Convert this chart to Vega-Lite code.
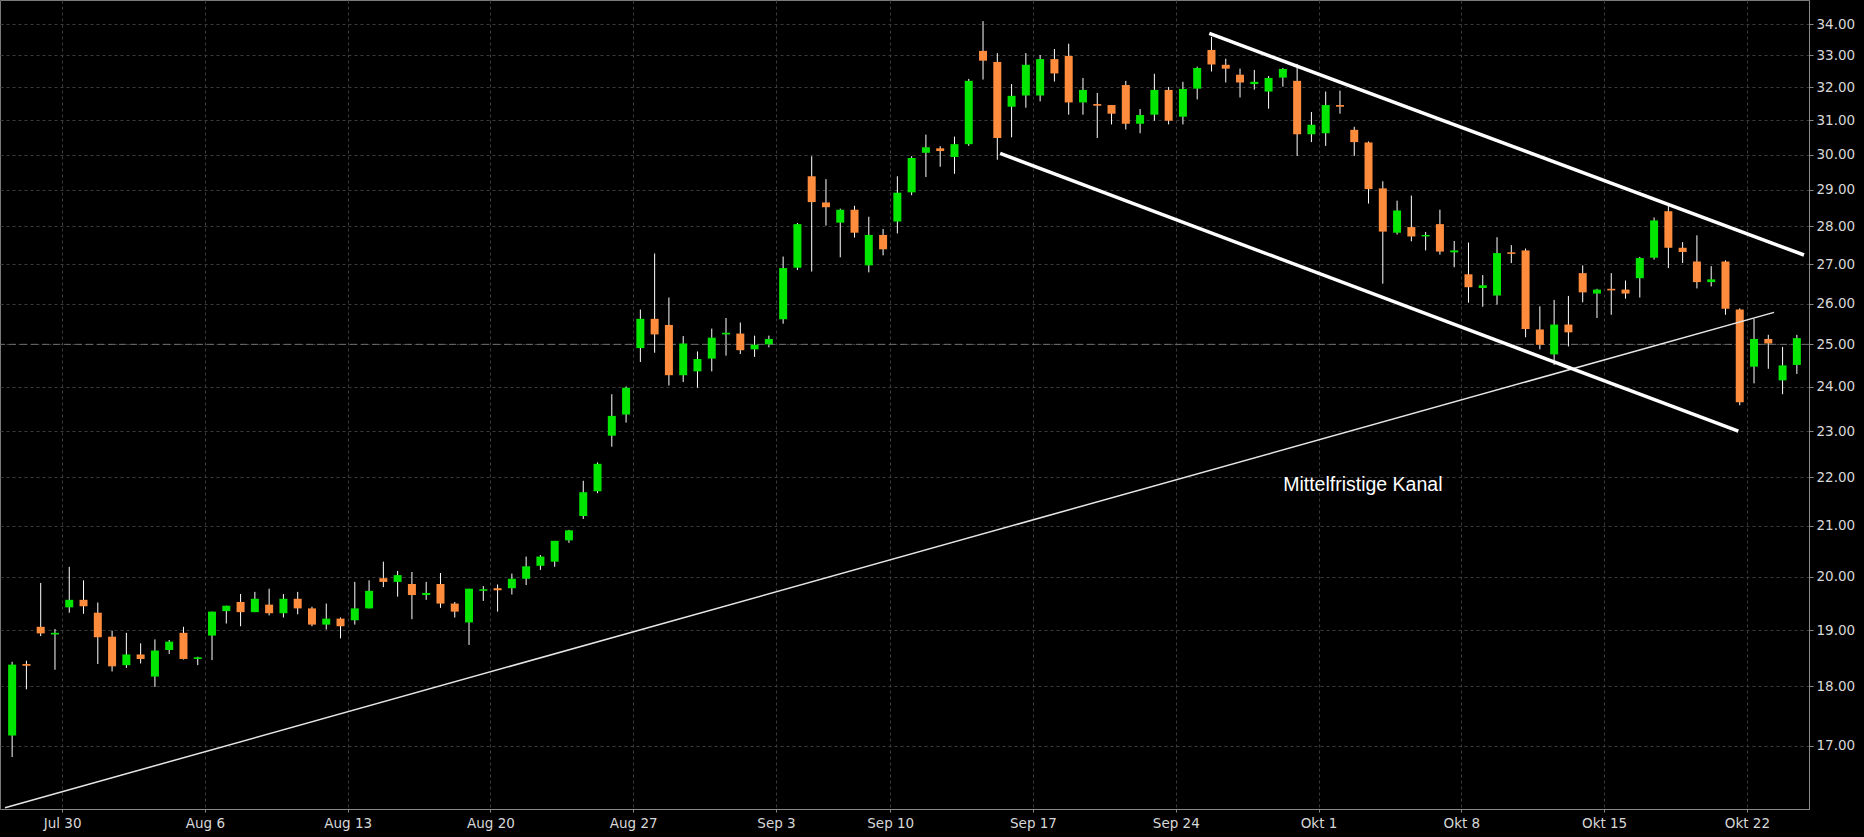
{
  "$schema": "https://vega.github.io/schema/vega-lite/v6.json",
  "width": 1809,
  "height": 809,
  "autosize": {"type": "none"},
  "padding": {"left": 0, "top": 0, "right": 55, "bottom": 28},
  "background": "#000000",
  "config": {
    "view": {"stroke": "#7a7a7a", "strokeWidth": 1},
    "axis": {
      "domainColor": "#8a8a8a",
      "tickColor": "#8a8a8a",
      "gridColor": "#3a3a3a",
      "gridDash": [3, 3],
      "gridWidth": 1,
      "labelColor": "#d8d8d8",
      "labelFont": "DejaVu Sans",
      "labelFontSize": 13.5,
      "title": null
    }
  },
  "datasets": {
    "ohlc": [
      {"i":0,"o":17.17,"h":18.43,"l":16.82,"c":18.38},
      {"i":1,"o":18.39,"h":18.45,"l":17.95,"c":18.36},
      {"i":2,"o":19.06,"h":19.88,"l":18.89,"c":18.94},
      {"i":3,"o":18.92,"h":19.02,"l":18.29,"c":18.95},
      {"i":4,"o":19.42,"h":20.19,"l":19.32,"c":19.56},
      {"i":5,"o":19.56,"h":19.93,"l":19.30,"c":19.44},
      {"i":6,"o":19.32,"h":19.51,"l":18.39,"c":18.87},
      {"i":7,"o":18.88,"h":18.99,"l":18.26,"c":18.35},
      {"i":8,"o":18.37,"h":18.95,"l":18.32,"c":18.56},
      {"i":9,"o":18.56,"h":18.76,"l":18.40,"c":18.48},
      {"i":10,"o":18.17,"h":18.83,"l":17.99,"c":18.63},
      {"i":11,"o":18.64,"h":18.82,"l":18.57,"c":18.79},
      {"i":12,"o":18.95,"h":19.06,"l":18.47,"c":18.48},
      {"i":13,"o":18.48,"h":18.52,"l":18.37,"c":18.51},
      {"i":14,"o":18.90,"h":19.34,"l":18.46,"c":19.34},
      {"i":15,"o":19.35,"h":19.45,"l":19.12,"c":19.45},
      {"i":16,"o":19.52,"h":19.67,"l":19.07,"c":19.33},
      {"i":17,"o":19.33,"h":19.71,"l":19.33,"c":19.58},
      {"i":18,"o":19.47,"h":19.77,"l":19.27,"c":19.31},
      {"i":19,"o":19.31,"h":19.67,"l":19.23,"c":19.58},
      {"i":20,"o":19.58,"h":19.71,"l":19.29,"c":19.40},
      {"i":21,"o":19.40,"h":19.43,"l":19.07,"c":19.10},
      {"i":22,"o":19.10,"h":19.49,"l":19.01,"c":19.21},
      {"i":23,"o":19.21,"h":19.23,"l":18.85,"c":19.07},
      {"i":24,"o":19.18,"h":19.90,"l":19.10,"c":19.40},
      {"i":25,"o":19.40,"h":19.93,"l":19.40,"c":19.73},
      {"i":26,"o":19.97,"h":20.29,"l":19.80,"c":19.90},
      {"i":27,"o":19.90,"h":20.11,"l":19.62,"c":20.03},
      {"i":28,"o":19.86,"h":20.09,"l":19.20,"c":19.65},
      {"i":29,"o":19.65,"h":19.90,"l":19.56,"c":19.69},
      {"i":30,"o":19.86,"h":20.07,"l":19.41,"c":19.49},
      {"i":31,"o":19.49,"h":19.52,"l":19.23,"c":19.34},
      {"i":32,"o":19.14,"h":19.77,"l":18.73,"c":19.77},
      {"i":33,"o":19.73,"h":19.82,"l":19.54,"c":19.76},
      {"i":34,"o":19.78,"h":19.85,"l":19.34,"c":19.74},
      {"i":35,"o":19.78,"h":20.06,"l":19.66,"c":19.96},
      {"i":36,"o":19.96,"h":20.39,"l":19.84,"c":20.20},
      {"i":37,"o":20.21,"h":20.42,"l":20.13,"c":20.39},
      {"i":38,"o":20.29,"h":20.70,"l":20.19,"c":20.70},
      {"i":39,"o":20.71,"h":20.92,"l":20.66,"c":20.91},
      {"i":40,"o":21.20,"h":21.93,"l":21.14,"c":21.69},
      {"i":41,"o":21.71,"h":22.32,"l":21.67,"c":22.29},
      {"i":42,"o":22.90,"h":23.83,"l":22.66,"c":23.34},
      {"i":43,"o":23.37,"h":24.01,"l":23.19,"c":23.98},
      {"i":44,"o":24.91,"h":25.85,"l":24.58,"c":25.62},
      {"i":45,"o":25.62,"h":27.28,"l":24.80,"c":25.24},
      {"i":46,"o":25.47,"h":26.15,"l":24.03,"c":24.27},
      {"i":47,"o":24.27,"h":25.20,"l":24.11,"c":25.02},
      {"i":48,"o":24.36,"h":24.83,"l":23.98,"c":24.65},
      {"i":49,"o":24.66,"h":25.38,"l":24.36,"c":25.16},
      {"i":50,"o":25.24,"h":25.64,"l":24.73,"c":25.28},
      {"i":51,"o":25.26,"h":25.53,"l":24.77,"c":24.86},
      {"i":52,"o":24.88,"h":25.21,"l":24.70,"c":24.99},
      {"i":53,"o":25.00,"h":25.21,"l":24.93,"c":25.13},
      {"i":54,"o":25.61,"h":27.20,"l":25.50,"c":26.90},
      {"i":55,"o":26.91,"h":28.09,"l":26.85,"c":28.06},
      {"i":56,"o":29.38,"h":29.95,"l":26.81,"c":28.66},
      {"i":57,"o":28.65,"h":29.30,"l":28.02,"c":28.52},
      {"i":58,"o":28.10,"h":28.48,"l":27.18,"c":28.45},
      {"i":59,"o":28.45,"h":28.56,"l":27.70,"c":27.83},
      {"i":60,"o":26.97,"h":28.26,"l":26.79,"c":27.77},
      {"i":61,"o":27.77,"h":27.93,"l":27.23,"c":27.39},
      {"i":62,"o":28.13,"h":29.38,"l":27.81,"c":28.92},
      {"i":63,"o":28.93,"h":29.95,"l":28.85,"c":29.90},
      {"i":64,"o":30.05,"h":30.58,"l":29.36,"c":30.21},
      {"i":65,"o":30.18,"h":30.24,"l":29.65,"c":30.10},
      {"i":66,"o":29.93,"h":30.52,"l":29.45,"c":30.30},
      {"i":67,"o":30.30,"h":32.26,"l":30.25,"c":32.20},
      {"i":68,"o":33.14,"h":34.10,"l":32.24,"c":32.83},
      {"i":69,"o":32.79,"h":33.07,"l":29.85,"c":30.48},
      {"i":70,"o":31.41,"h":32.10,"l":30.50,"c":31.74},
      {"i":71,"o":31.75,"h":33.07,"l":31.38,"c":32.70},
      {"i":72,"o":31.75,"h":33.01,"l":31.57,"c":32.88},
      {"i":73,"o":32.88,"h":33.20,"l":32.18,"c":32.43},
      {"i":74,"o":32.98,"h":33.37,"l":31.17,"c":31.54},
      {"i":75,"o":31.54,"h":32.29,"l":31.17,"c":31.92},
      {"i":76,"o":31.49,"h":31.83,"l":30.48,"c":31.44},
      {"i":77,"o":31.46,"h":31.46,"l":30.88,"c":31.20},
      {"i":78,"o":32.07,"h":32.20,"l":30.73,"c":30.90},
      {"i":79,"o":30.90,"h":31.34,"l":30.62,"c":31.16},
      {"i":80,"o":31.17,"h":32.42,"l":30.99,"c":31.92},
      {"i":81,"o":31.92,"h":32.01,"l":30.88,"c":30.99},
      {"i":82,"o":31.11,"h":32.17,"l":30.88,"c":31.95},
      {"i":83,"o":31.96,"h":32.64,"l":31.63,"c":32.60},
      {"i":84,"o":33.17,"h":33.59,"l":32.49,"c":32.71},
      {"i":85,"o":32.70,"h":32.89,"l":32.15,"c":32.58},
      {"i":86,"o":32.39,"h":32.58,"l":31.69,"c":32.15},
      {"i":87,"o":32.10,"h":32.54,"l":31.93,"c":32.17},
      {"i":88,"o":31.87,"h":32.35,"l":31.35,"c":32.29},
      {"i":89,"o":32.30,"h":32.60,"l":32.02,"c":32.57},
      {"i":90,"o":32.20,"h":32.73,"l":29.96,"c":30.59},
      {"i":91,"o":30.59,"h":31.25,"l":30.36,"c":30.87},
      {"i":92,"o":30.62,"h":31.87,"l":30.25,"c":31.46},
      {"i":93,"o":31.46,"h":31.90,"l":31.20,"c":31.41},
      {"i":94,"o":30.72,"h":30.81,"l":29.96,"c":30.36},
      {"i":95,"o":30.35,"h":30.38,"l":28.62,"c":29.02},
      {"i":96,"o":29.04,"h":29.24,"l":26.50,"c":27.86},
      {"i":97,"o":27.83,"h":28.70,"l":27.78,"c":28.43},
      {"i":98,"o":27.98,"h":28.84,"l":27.60,"c":27.73},
      {"i":99,"o":27.73,"h":27.85,"l":27.36,"c":27.77},
      {"i":100,"o":28.06,"h":28.45,"l":27.25,"c":27.33},
      {"i":101,"o":27.31,"h":27.61,"l":26.92,"c":27.36},
      {"i":102,"o":26.74,"h":27.57,"l":26.02,"c":26.41},
      {"i":103,"o":26.39,"h":26.72,"l":25.92,"c":26.46},
      {"i":104,"o":26.20,"h":27.71,"l":25.97,"c":27.29},
      {"i":105,"o":27.31,"h":27.50,"l":27.03,"c":27.27},
      {"i":106,"o":27.36,"h":27.41,"l":25.17,"c":25.37},
      {"i":107,"o":25.36,"h":25.93,"l":24.88,"c":24.99},
      {"i":108,"o":24.76,"h":26.09,"l":24.51,"c":25.48},
      {"i":109,"o":25.48,"h":26.19,"l":24.95,"c":25.29},
      {"i":110,"o":26.77,"h":26.97,"l":26.03,"c":26.28},
      {"i":111,"o":26.25,"h":26.37,"l":25.64,"c":26.35},
      {"i":112,"o":26.37,"h":26.77,"l":25.72,"c":26.33},
      {"i":113,"o":26.35,"h":26.58,"l":26.12,"c":26.25},
      {"i":114,"o":26.64,"h":27.19,"l":26.15,"c":27.16},
      {"i":115,"o":27.17,"h":28.24,"l":27.12,"c":28.16},
      {"i":116,"o":28.41,"h":28.55,"l":26.90,"c":27.43},
      {"i":117,"o":27.43,"h":27.58,"l":27.03,"c":27.32},
      {"i":118,"o":27.07,"h":27.76,"l":26.38,"c":26.54},
      {"i":119,"o":26.54,"h":26.95,"l":26.43,"c":26.61},
      {"i":120,"o":27.07,"h":27.10,"l":25.72,"c":25.87},
      {"i":121,"o":25.85,"h":25.88,"l":23.58,"c":23.65},
      {"i":122,"o":24.47,"h":25.62,"l":24.08,"c":25.13},
      {"i":123,"o":25.13,"h":25.23,"l":24.42,"c":25.02},
      {"i":124,"o":24.15,"h":24.94,"l":23.83,"c":24.50},
      {"i":125,"o":24.51,"h":25.23,"l":24.30,"c":25.15}
    ],
    "trend": [
      {"g":"long","i":-0.5,"p":16.02},
      {"g":"long","i":123.4,"p":25.78},
      {"g":"upper","i":83.85,"p":33.70},
      {"g":"upper","i":125.5,"p":27.24},
      {"g":"lower","i":69.2,"p":30.03},
      {"g":"lower","i":120.9,"p":23.0}
    ],
    "notes": [
      {"i":94.6,"p":21.85,"t":"Mittelfristige Kanal"}
    ],
    "levels": [
      {"p":25}
    ]
  },
  "layer": [
    {
      "data": {"name": "ohlc"},
      "mark": {"type": "rule", "color": "#ffffff", "strokeWidth": 1},
      "encoding": {
        "x": {
          "field": "i", "type": "quantitative",
          "scale": {"domain": [-0.5, 125.5], "nice": false, "zero": false},
          "axis": {
            "orient": "bottom",
            "values": [3.5, 13.5, 23.5, 33.5, 43.5, 53.5, 61.5, 71.5, 81.5, 91.5, 101.5, 111.5, 121.5],
            "labelExpr": "['Jul 30','Aug 6','Aug 13','Aug 20','Aug 27','Sep 3','Sep 10','Sep 17','Sep 24','Okt 1','Okt 8','Okt 15','Okt 22'][indexof([3.5,13.5,23.5,33.5,43.5,53.5,61.5,71.5,81.5,91.5,101.5,111.5,121.5], datum.value)]",
            "tickSize": 3,
            "labelPadding": 4,
            "labelFlush": false,
            "labelOverlap": false,
            "grid": true
          }
        },
        "y": {
          "field": "l", "type": "quantitative",
          "scale": {"type": "log", "domain": [16, 34.8], "nice": false},
          "axis": {
            "orient": "right",
            "values": [17,18,19,20,21,22,23,24,25,26,27,28,29,30,31,32,33,34],
            "format": ".2f",
            "tickSize": 4,
            "labelPadding": 3,
            "labelOverlap": false,
            "labelFlush": false,
            "grid": true
          }
        },
        "y2": {"field": "h"}
      }
    },
    {
      "data": {"name": "levels"},
      "mark": {"type": "rule", "color": "#6e6e6e", "strokeDash": [7, 4], "strokeWidth": 1},
      "encoding": {
        "y": {"field": "p", "type": "quantitative", "scale": {"type": "log", "domain": [16, 34.8], "nice": false}}
      }
    },
    {
      "data": {"name": "ohlc"},
      "mark": {"type": "bar", "size": 8},
      "encoding": {
        "x": {"field": "i", "type": "quantitative", "scale": {"domain": [-0.5, 125.5], "nice": false, "zero": false}},
        "y": {"field": "o", "type": "quantitative", "scale": {"type": "log", "domain": [16, 34.8], "nice": false}},
        "y2": {"field": "c"},
        "color": {"condition": {"test": "datum.c >= datum.o", "value": "#00e600"}, "value": "#ff8c3c"}
      }
    },
    {
      "data": {"name": "trend"},
      "transform": [{"filter": "datum.g === 'long'"}],
      "mark": {"type": "line", "color": "#e6e6e6", "strokeWidth": 1.5},
      "encoding": {
        "x": {"field": "i", "type": "quantitative", "scale": {"domain": [-0.5, 125.5], "nice": false, "zero": false}},
        "y": {"field": "p", "type": "quantitative", "scale": {"type": "log", "domain": [16, 34.8], "nice": false}},
        "detail": {"field": "g"}
      }
    },
    {
      "data": {"name": "trend"},
      "transform": [{"filter": "datum.g !== 'long'"}],
      "mark": {"type": "line", "color": "#ffffff", "strokeWidth": 3.5},
      "encoding": {
        "x": {"field": "i", "type": "quantitative", "scale": {"domain": [-0.5, 125.5], "nice": false, "zero": false}},
        "y": {"field": "p", "type": "quantitative", "scale": {"type": "log", "domain": [16, 34.8], "nice": false}},
        "detail": {"field": "g"}
      }
    },
    {
      "data": {"name": "notes"},
      "mark": {"type": "text", "color": "#ffffff", "font": "Liberation Sans", "fontSize": 19.5, "align": "center", "baseline": "middle"},
      "encoding": {
        "x": {"field": "i", "type": "quantitative", "scale": {"domain": [-0.5, 125.5], "nice": false, "zero": false}},
        "y": {"field": "p", "type": "quantitative", "scale": {"type": "log", "domain": [16, 34.8], "nice": false}},
        "text": {"field": "t"}
      }
    }
  ]
}
